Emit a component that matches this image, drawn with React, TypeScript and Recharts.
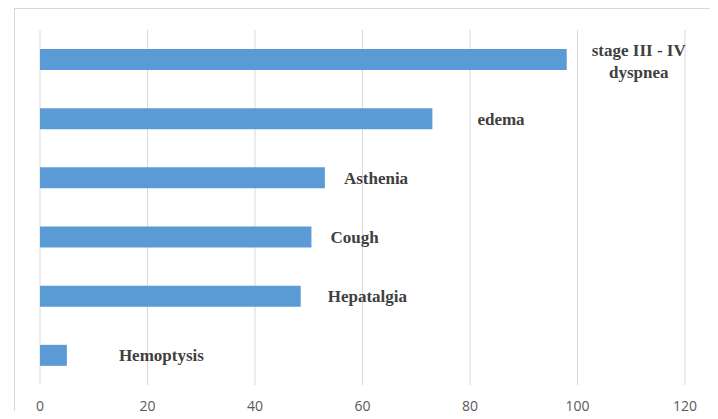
import React from 'react';
import { BarChart, Bar, XAxis, YAxis, CartesianGrid, LabelList } from 'recharts';

const categories = ['stage III - IV dyspnea', 'edema', 'Asthenia', 'Cough', 'Hepatalgia', 'Hemoptysis'];
const values = [98, 73, 53, 50.5, 48.5, 5];
const xTicks = [0, 20, 40, 60, 80, 100, 120];

// label gap after each bar end, as placed by hand in the original
const LABEL_GAP = [72, 45, 19, 19, 27, 52];

const data = categories.map((name, i) => ({ name, value: values[i] }));

const BarLabel = (props: any) => {
  const { x, y, width, height, index } = props;
  const endX = x + width + LABEL_GAP[index];
  const cy = y + height / 2;
  const style = { fontFamily: '"Liberation Serif", serif', fontWeight: 'bold', fontSize: 17, fill: '#404040' };
  if (index === 0) {
    return (
      <text x={endX} y={cy} textAnchor="middle" style={style}>
        <tspan x={endX} dy={-4}>stage III - IV</tspan>
        <tspan x={endX} dy={22}>dyspnea</tspan>
      </text>
    );
  }
  return (
    <text x={endX} y={cy + 2} dominantBaseline="middle" textAnchor="start" style={style}>
      {categories[index]}
    </text>
  );
};

export default function App() {
  return (
    <div style={{ position: 'relative', width: 718, height: 419, margin: -8, overflow: 'hidden', background: '#fff' }}>
      <div
        style={{
          position: 'absolute',
          left: 14,
          top: 8,
          width: 740,
          height: 440,
          border: '1px solid #d9d9d9',
        }}
      />
      <BarChart
        width={718}
        height={419}
        data={data}
        layout="vertical"
        margin={{ top: 30, right: 33, bottom: 0, left: 40 }}
        style={{ position: 'absolute', left: 0, top: 0 }}
      >
        <CartesianGrid horizontal={false} stroke="#d9d9d9" />
        <XAxis
          type="number"
          domain={[0, 120]}
          ticks={xTicks}
          axisLine={false}
          tickLine={false}
          tickSize={0}
          tickMargin={16}
          height={34}
          tick={{ fill: '#595959', fontSize: 14, fontFamily: '"Open Sans", sans-serif' }}
        />
        <YAxis type="category" dataKey="name" hide />
        <Bar dataKey="value" fill="#5b9bd5" barSize={21} isAnimationActive={false}>
          <LabelList dataKey="value" content={<BarLabel />} />
        </Bar>
      </BarChart>
    </div>
  );
}
